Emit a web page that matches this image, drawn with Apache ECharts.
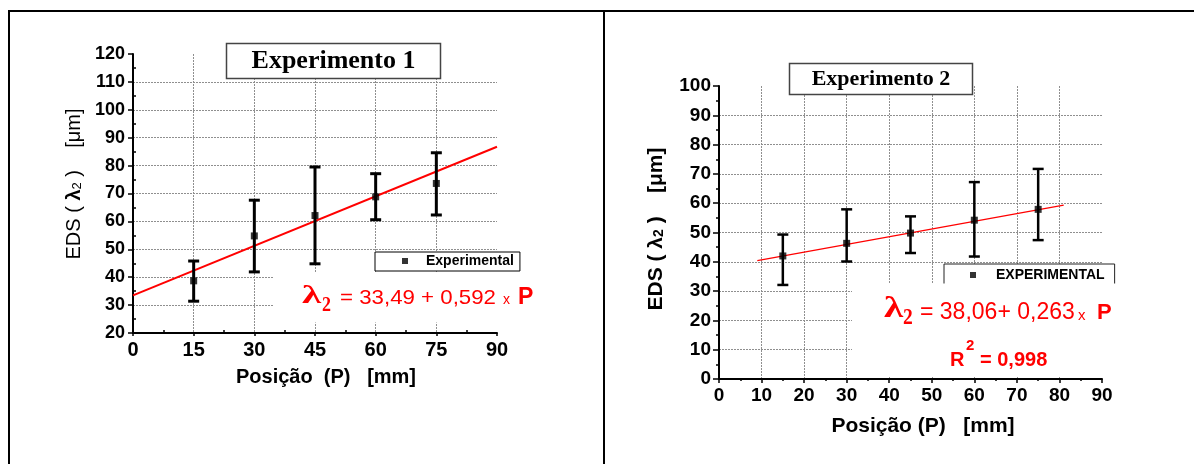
<!DOCTYPE html>
<html><head><meta charset="utf-8">
<script src="https://cdn.jsdelivr.net/npm/echarts@6/dist/echarts.min.js"></script>
<style>html,body{margin:0;padding:0;background:#fff}#c{width:1194px;height:464px}</style>
</head><body><div id="c"></div>
<script>
// ---------- data ----------
const positions1 = [15, 30, 45, 60, 75];
const eds1 = [38.7, 54.8, 62.1, 68.8, 73.6];
const eds1Low = [31.4, 41.9, 44.8, 60.6, 62.3];
const eds1High = [45.8, 67.6, 79.5, 77.1, 84.6];
const fit1 = [[0, 33.49], [90, 86.77]];

const positions2 = [15, 30, 45, 60, 75];
const eds2 = [42.0, 46.3, 49.8, 54.2, 57.9];
const eds2Low = [32.1, 40.1, 43.0, 41.8, 47.4];
const eds2High = [49.3, 57.9, 55.5, 67.2, 71.7];
const fit2 = [[9, 40.43], [81, 59.36]];

// axis ranges: [min, max, interval]
const xAxis1Range = [0, 90, 15];
const yAxis1Range = [20, 120, 10];
const xAxis2Range = [0, 90, 10];
const yAxis2Range = [0, 100, 10];

const titles = ['Experimento 1', 'Experimento 2'];
const seriesNames = ['Experimental', 'EXPERIMENTAL'];
const xTitles = ['Posição  (P)   [mm]', 'Posição (P)   [mm]'];

// ---------- chart ----------
const SANS = '"Liberation Sans", Arial, sans-serif';
const SERIF = '"Liberation Serif", "Times New Roman", serif';
const chart = echarts.init(document.getElementById('c'), null, {renderer: 'canvas'});

function errorBar(lw, cap) {
  return function (params, api) {
    const x = api.value(0), lo = api.value(1), hi = api.value(2);
    const a = api.coord([x, lo]), b = api.coord([x, hi]);
    const h = cap / 2;
    const st = {stroke: '#000', lineWidth: lw, fill: null};
    return {type: 'group', children: [
      {type: 'line', shape: {x1: a[0], y1: a[1], x2: b[0], y2: b[1]}, style: st},
      {type: 'line', shape: {x1: a[0] - h, y1: a[1], x2: a[0] + h, y2: a[1]}, style: st},
      {type: 'line', shape: {x1: b[0] - h, y1: b[1], x2: b[0] + h, y2: b[1]}, style: st}
    ]};
  };
}

const gridLine = {show: true, showMinLine: false, showMaxLine: false, lineStyle: {color: '#8f8f8f', width: 1, type: [2, 1]}};

function mainAxis(gi, r, o) {
  return Object.assign({
    gridIndex: gi, type: 'value', min: r[0], max: r[1], interval: r[2],
    axisLine: {show: true, onZero: false, lineStyle: {color: '#000', width: 2}},
    axisTick: {show: true, length: o.tickLen, lineStyle: {color: '#000', width: 1.5}},
    minorTick: {show: !!o.minorOut, splitNumber: 2, length: o.minorLen || 3, lineStyle: {color: '#000', width: 1.5}},
    axisLabel: {color: '#000', fontWeight: 'bold', fontSize: o.fs, fontFamily: SANS, margin: o.margin},
    splitLine: gridLine
  }, o.extra || {});
}
// second axis on the same grid, only to draw inward-pointing minor ticks
function minorAxis(gi, r, o) {
  return Object.assign({
    gridIndex: gi, type: 'value', min: r[0], max: r[1], interval: r[2],
    axisLine: {show: false, onZero: false},
    axisTick: {show: true, inside: true, length: 0, lineStyle: {color: 'rgba(0,0,0,0)', width: 0}},
    minorTick: {show: true, splitNumber: 2, length: o.minorLen, lineStyle: {color: '#000', width: 1.5}},
    axisLabel: {show: false},
    splitLine: {show: false}
  }, o.extra || {});
}

function txt(x, y, text, fill, fs, weight, family, extra) {
  return Object.assign({type: 'text', x: x, y: y, z: 13,
    style: {text: text, fill: fill, fontSize: fs, fontWeight: weight, fontFamily: family, align: 'left', verticalAlign: 'middle'}}, extra || {});
}

const option = {
  animation: false,
  backgroundColor: '#fff',
  grid: [
    {left: 133, top: 54, width: 364, height: 279},
    {left: 719, top: 86, width: 383, height: 293}
  ],
  xAxis: [
    mainAxis(0, xAxis1Range, {tickLen: 3, fs: 20, margin: 7, extra: {position: 'bottom'}}),
    minorAxis(0, xAxis1Range, {minorLen: 3, extra: {position: 'bottom'}}),
    mainAxis(1, xAxis2Range, {tickLen: 4, fs: 19, margin: 7, minorOut: true, minorLen: 2, extra: {position: 'bottom'}})
  ],
  yAxis: [
    mainAxis(0, yAxis1Range, {tickLen: 5, fs: 18, margin: 8, extra: {position: 'left'}}),
    minorAxis(0, yAxis1Range, {minorLen: 3, extra: {position: 'left'}}),
    mainAxis(1, yAxis2Range, {tickLen: 6, fs: 19, margin: 8, minorOut: true, minorLen: 3, extra: {position: 'left'}})
  ],
  legend: [
    {data: [seriesNames[0]], left: 375, top: 252, orient: 'horizontal', selectedMode: false,
     backgroundColor: '#fff', borderColor: '#000', borderWidth: 1, borderRadius: 0,
     padding: [2, 6, 3, 27], itemWidth: 6, itemHeight: 6, icon: 'rect',
     textStyle: {fontSize: 14, fontWeight: 'bold', color: '#000', fontFamily: SANS, padding: [0, 0, 0, 13]}},
    {data: [seriesNames[1]], left: 944, top: 264, orient: 'horizontal', selectedMode: false,
     backgroundColor: '#fff', borderColor: '#222', borderWidth: 1, borderRadius: 0,
     padding: [4, 10, 10, 26], itemWidth: 6, itemHeight: 6, icon: 'rect',
     textStyle: {fontSize: 14, fontWeight: 'bold', color: '#000', fontFamily: SANS, padding: [0, 0, 0, 15]}}
  ],
  series: [
    {type: 'line', xAxisIndex: 0, yAxisIndex: 0, data: fit1, symbol: 'none', silent: true,
     lineStyle: {color: '#ff0000', width: 2}, z: 2},
    {type: 'custom', xAxisIndex: 0, yAxisIndex: 0, renderItem: errorBar(3, 11), silent: true,
     data: positions1.map((p, i) => [p, eds1Low[i], eds1High[i]]), encode: {x: 0, y: [1, 2]}, z: 3},
    {type: 'scatter', name: seriesNames[0], xAxisIndex: 0, yAxisIndex: 0, symbol: 'rect', symbolSize: 7,
     itemStyle: {color: '#000'}, data: positions1.map((p, i) => [p, eds1[i]]), z: 4},

    {type: 'line', xAxisIndex: 2, yAxisIndex: 2, data: fit2, symbol: 'none', silent: true,
     lineStyle: {color: '#ff0000', width: 1.2}, z: 2},
    {type: 'custom', xAxisIndex: 2, yAxisIndex: 2, renderItem: errorBar(2.5, 11), silent: true,
     data: positions2.map((p, i) => [p, eds2Low[i], eds2High[i]]), encode: {x: 0, y: [1, 2]}, z: 3},
    {type: 'scatter', name: seriesNames[1], xAxisIndex: 2, yAxisIndex: 2, symbol: 'rect', symbolSize: 7,
     itemStyle: {color: '#000'}, data: positions2.map((p, i) => [p, eds2[i]]), z: 4}
  ],
  graphic: [
    // outer frame
    {type: 'line', shape: {x1: 8, y1: 11, x2: 1194, y2: 11}, style: {stroke: '#000', lineWidth: 2}, z: 20},
    {type: 'line', shape: {x1: 9, y1: 10, x2: 9, y2: 464}, style: {stroke: '#000', lineWidth: 2}, z: 20},
    {type: 'line', shape: {x1: 604, y1: 10, x2: 604, y2: 464}, style: {stroke: '#000', lineWidth: 2}, z: 20},

    // white cover boxes behind the equations
    {type: 'rect', shape: {x: 273, y: 272.5, width: 262, height: 50}, style: {fill: '#fff'}, z: 10},
    {type: 'rect', shape: {x: 852, y: 283.5, width: 275, height: 93.5}, style: {fill: '#fff'}, z: 10},

    // title boxes
    {type: 'rect', shape: {x: 226.5, y: 43.5, width: 214, height: 35}, style: {fill: '#fff', stroke: '#444', lineWidth: 1.5}, z: 12},
    {type: 'text', x: 333.5, y: 61.5, style: {text: titles[0], fill: '#000', fontSize: 26, fontWeight: 'bold', fontFamily: SERIF, align: 'center', verticalAlign: 'middle'}, z: 13},
    {type: 'rect', shape: {x: 789.5, y: 63.5, width: 183, height: 31}, style: {fill: '#fff', stroke: '#444', lineWidth: 1.5}, z: 12},
    {type: 'text', x: 881, y: 79.5, style: {text: titles[1], fill: '#000', fontSize: 22, fontWeight: 'bold', fontFamily: SERIF, align: 'center', verticalAlign: 'middle'}, z: 13},

    // axis titles
    {type: 'text', x: 326, y: 377, style: {text: xTitles[0], fill: '#000', fontSize: 20, fontWeight: 'bold', fontFamily: SANS, align: 'center', verticalAlign: 'middle'}, z: 13},
    {type: 'text', x: 923, y: 426.5, style: {text: xTitles[1], fill: '#000', fontSize: 21, fontWeight: 'bold', fontFamily: SANS, align: 'center', verticalAlign: 'middle'}, z: 13},
    {type: 'text', x: 72, y: 184, rotation: Math.PI / 2, style: {
      text: '{a|EDS ( }{b|λ}{s|2}{a| )    [μm]}', align: 'center', verticalAlign: 'middle',
      rich: {
        a: {fontSize: 20, fontFamily: SANS, fill: '#000', lineHeight: 24, verticalAlign: 'bottom'},
        b: {fontSize: 20, fontFamily: SANS, fontWeight: 'bold', fill: '#000', lineHeight: 24, verticalAlign: 'bottom'},
        s: {fontSize: 13, fontFamily: SANS, fill: '#000', lineHeight: 2, verticalAlign: 'bottom'}
      }}, z: 13},
    {type: 'text', x: 654, y: 229, rotation: Math.PI / 2, style: {
      text: '{a|EDS ( }{b|λ}{s|2}{a| )    [μm]}', align: 'center', verticalAlign: 'middle',
      rich: {
        a: {fontSize: 21, fontFamily: SANS, fontWeight: 'bold', fill: '#000', lineHeight: 25, verticalAlign: 'bottom'},
        b: {fontSize: 21, fontFamily: SANS, fontWeight: 'bold', fill: '#000', lineHeight: 25, verticalAlign: 'bottom'},
        s: {fontSize: 14, fontFamily: SANS, fontWeight: 'bold', fill: '#000', lineHeight: 2, verticalAlign: 'bottom'}
      }}, z: 13},

    // equation, experiment 1
    txt(302, 296, 'λ', '#ff0000', 26, 'bold', SERIF, {scaleX: 1.5}),
    txt(322, 305.5, '2', '#ff0000', 20, 'bold', SERIF, {scaleX: 0.9}),
    txt(340, 298.5, '= 33,49 + 0,592', '#ff0000', 21, 'normal', SANS, {scaleX: 1.06}),
    txt(503, 300.5, 'x', '#ff0000', 14, 'normal', SANS),
    txt(518, 298, 'P', '#ff0000', 23, 'bold', SANS),

    // equation, experiment 2
    txt(884, 309, 'λ', '#ff0000', 30, 'bold', SERIF, {scaleX: 1.3}),
    txt(903, 318.5, '2', '#ff0000', 23, 'bold', SERIF, {scaleX: 0.85}),
    txt(920, 313, '= 38,06+ 0,263', '#ff0000', 23, 'normal', SANS),
    txt(1078, 316, 'x', '#ff0000', 15, 'normal', SANS),
    txt(1097, 313, 'P', '#ff0000', 22, 'bold', SANS),

    // R squared
    txt(950, 360.5, 'R', '#ff0000', 20, 'bold', SANS),
    txt(966, 345.5, '2', '#ff0000', 15, 'bold', SANS),
    txt(980, 360.5, '= 0,998', '#ff0000', 20, 'bold', SANS)
  ]
};
chart.setOption(option);
</script>
</body></html>
